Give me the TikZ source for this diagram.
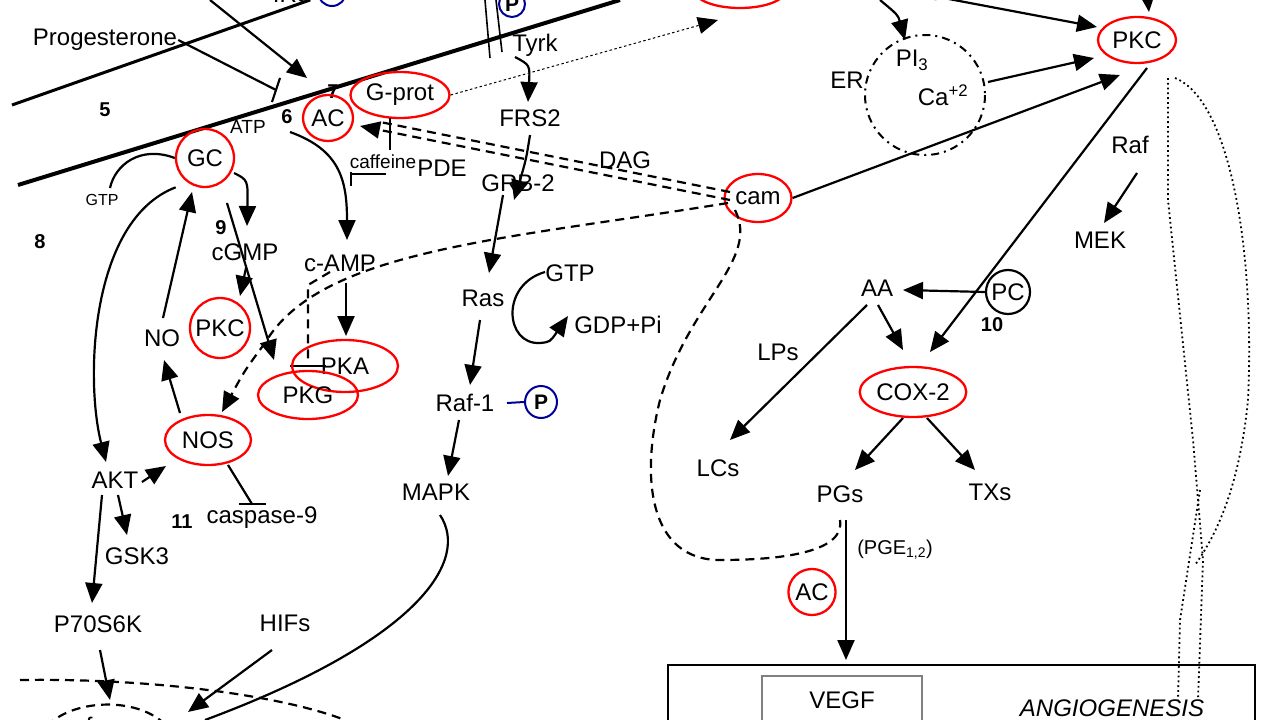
\documentclass[tikz,border=0pt]{standalone}
\usepackage{fontspec}
\setmainfont{Liberation Sans}
\usetikzlibrary{arrows.meta,shapes.geometric,calc}
\begin{document}
\begin{tikzpicture}[x=1pt,y=-1pt,
  lab/.style={font=\fontsize{24}{26}\selectfont,inner sep=1pt},
  sm/.style={font=\fontsize{19}{21}\selectfont,inner sep=1pt},
  num/.style={font=\fontsize{20}{22}\selectfont\bfseries,inner sep=1pt},
  red/.style={draw=red,line width=2.3pt,shape=ellipse},
  ar/.style={line width=2.2pt,-{Triangle[length=20pt,width=17pt]}},
  ln/.style={line width=2.2pt},
  dsh/.style={line width=2.2pt,dash pattern=on 9pt off 6pt},
  dot/.style={line width=1.8pt,dash pattern=on 1.8pt off 3pt}]
\useasboundingbox (0,0) rectangle (1280,720);
\clip (0,0) rectangle (1280,720);
\fill[white] (0,0) rectangle (1280,720);
% membranes
\draw[line width=3pt] (12,105) -- (310,0);
\draw[line width=4pt] (18,185) -- (620,0);
% top cut items
\node[lab] (irs) at (293,-6) {IRS};
\node[draw=blue!60!black,circle,line width=2pt,minimum size=28pt] (bp1) at (332,-8) {};
\node[draw=red,line width=2.3pt,shape=ellipse,minimum width=92pt,minimum height=36pt] (topred) at (740,-10) {};
\node[sm] (dagt) at (922,-6) {DAG};
% progesterone
\node[lab] (prog) at (105,40) {Progesterone};
\coordinate (pb) at (276,90);
\draw[ln] (prog.east) -- (pb);
\draw[ln] ($(pb)+(4,-12)$) -- ($(pb)+(-4,12)$);
\coordinate (ta) at (210,0);
\coordinate (tb) at (307,78);
\draw[ar] (ta) -- (tb);
\node[num] (n5) at (105,110) {5};
\node[sm] (atp) at (248,127) {ATP};
\node[num] (n6) at (287,117) {6};
\node[num] (n7) at (333,92) {7};
\node[red,minimum width=50pt,minimum height=46pt,lab] (ac) at (328,118) {AC};
\node[red,minimum width=82pt,minimum height=46pt,lab] (gprot) at (400,95) {G-prot};
\draw[line width=1pt,dash pattern=on 2.5pt off 2.5pt,-{Triangle[length=20pt,width=17pt]}] (gprot.east) -- (718,20);
% Tyrk
\draw[line width=1.6pt] (485,0) -- (490,58);
\draw[line width=1.6pt] (496,0) -- (502,52);
\node[draw=blue!60!black,circle,line width=2pt,minimum size=26pt,font=\fontsize{21}{22}\selectfont\bfseries,inner sep=0pt] (bp2) at (512,4) {P};
\draw[line width=2pt,blue!60!black] (498,4) -- (bp2.west);
\node[lab] (tyrk) at (535,45) {Tyrk};
\node[lab] (frs) at (530,118) {FRS2};
\node[lab] (grb) at (518,183) {GRB-2};
\draw[ar] (515,57) .. controls (530,65) .. (528,102);
\draw[ar] (530,135) .. controls (526,160) .. (514,200);
\node[lab] (ras) at (483,298) {Ras};
\draw[ar] (503,195) -- (489,273);
\node[lab] (gtp2) at (570,273) {GTP};
\node[lab] (gdp) at (618,325) {GDP+Pi};
\draw[ar] (545,272) .. controls (500,285) and (505,345) .. (540,343) .. controls (550,342) .. (568,316);
\node[lab] (raf1) at (465,403) {Raf-1};
\node[draw=blue!60!black,circle,line width=2pt,minimum size=32pt,font=\fontsize{21}{22}\selectfont\bfseries,inner sep=0pt] (bp3) at (541,402) {P};
\draw[line width=2pt,blue!60!black] (507,403) -- (bp3.west);
\draw[ar] (480,320) -- (470,385);
\node[lab] (mapk) at (436,492) {MAPK};
\draw[ar] (459,420) -- (448,476);
\draw[ln] (440,515) .. controls (470,560) and (420,640) .. (205,720);
% ER
\draw[line width=2pt,dash pattern=on 8pt off 5pt on 2pt off 5pt] (925,95) circle (60);
\node[lab] (pi3) at (912,60) {PI\textsubscript{3}};
\node[lab] (ca) at (943,95) {Ca\textsuperscript{+2}};
\node[lab] (er) at (847,80) {ER};
\draw[ar] (880,0) .. controls (898,15) .. (905,40);
\node[red,minimum width=78pt,minimum height=46pt,lab] (pkc) at (1137,40) {PKC};
\draw[ar] (dagt.east) ++(5,5) -- (1097,27);
\draw[ar] (1147,-8) -- (1149,12);
\draw[ar] (988,82) -- (1094,58);
\node[red,minimum width=58pt,minimum height=48pt,lab] (cam) at (758,198) {cam};
\draw[ar] (cam.east) -- (1120,75);
\node[lab] (dag2) at (625,160) {DAG};
\node[sm] (caff) at (383,162) {caffeine};
\node[lab] (pde) at (442,168) {PDE};
\draw[ln] (390,118) -- (390,150);
\draw[ln] (351,174) -- (386,174);
\draw[ln] (351,172) -- (351,186);
% double dashed cam -> AC
\draw[dsh] (730,192) -- (380,122);
\draw[dsh,-{Triangle[length=20pt,width=17pt]}] (730,200) -- (360,126);
% dashed cam -> NOS
\draw[dsh,-{Triangle[length=20pt,width=17pt]}] (728,203) .. controls (500,240) and (320,250) .. (265,343) .. controls (245,370) .. (222,412);
\draw[dsh] (330,272) -- (308,285) -- (308,360);
\draw[ln] (290,366) -- (326,366);
% big dashed loop
\draw[dsh] (735,210) .. controls (760,260) and (690,300) .. (660,400) .. controls (640,480) and (650,560) .. (720,560) .. controls (790,560) and (845,550) .. (840,520);
% right side
\node[lab] (raf) at (1130,145) {Raf};
\node[lab] (mek) at (1100,240) {MEK};
\draw[ar] (1137,173) -- (1104,223);
\node[red,minimum width=104pt,minimum height=50pt,lab] (cox) at (913,392) {COX-2};
\draw[ar] (1147,68) -- (930,352);
\node[draw,circle,line width=2.2pt,minimum size=44pt,lab,inner sep=0pt] (pc) at (1008,292) {PC};
\node[num] (n10) at (992,325) {10};
\node[lab] (aa) at (877,288) {AA};
\draw[ar] (pc.west) -- (903,290);
\draw[ar] (878,305) -- (903,350);
\draw[ar] (867,305) -- (730,440);
\node[lab] (lps) at (778,352) {LPs};
\node[lab] (lcs) at (718,468) {LCs};
\node[lab] (pgs) at (840,494) {PGs};
\node[lab] (txs) at (990,492) {TXs};
\draw[ar] (903,418) -- (855,470);
\draw[ar] (927,418) -- (975,470);
\node[lab,font=\fontsize{20}{22}\selectfont] (pge) at (895,550) {(PGE\textsubscript{1,2})};
\node[red,minimum width=42pt,minimum height=46pt,lab,inner sep=0pt] (ac2) at (812,592) {AC};
\draw[ar] (846,520) -- (846,660);
\draw[line width=2.5pt] (1255,740) -- (1255,665) -- (668,665) -- (668,740);
\draw[line width=2pt,gray] (762,740) -- (762,676) -- (922,676) -- (922,740);
\node[lab] (vegf) at (842,700) {VEGF};
\node[lab,font=\fontsize{24}{26}\selectfont\itshape] (ang) at (1112,708) {ANGIOGENESIS};
% dotted
\draw[dot] (1168,78) -- (1168,200) -- (1193,440) -- (1203,560) -- (1198,700);
\draw[dot] (1175,78) .. controls (1230,100) and (1255,250) .. (1248,400) .. controls (1240,480) and (1220,530) .. (1195,565);
\draw[dot] (1200,490) -- (1180,620) -- (1178,700);
% left side
\node[red,minimum width=58pt,minimum height=52pt,lab,shape=circle,inner sep=0pt] (gc) at (205,158) {GC};
\node[sm,font=\fontsize{16}{18}\selectfont] (gtp) at (102,200) {GTP};
\draw[ln] (gc.west) .. controls (140,145) and (115,165) .. (110,188);
\draw[ar] (gc.south west) ++(-8,8) .. controls (90,220) and (85,380) .. (106,462);
\node[num] (n8) at (40,242) {8};
\draw[ar] (234,173) .. controls (248,180) .. (247,226);
\node[num] (n9) at (221,228) {9};
\node[lab] (cgmp) at (245,252) {cGMP};
\node[red,minimum width=60pt,minimum height=52pt,lab,shape=circle,inner sep=0pt] (pkc2) at (220,328) {PKC};
\draw[ar] (246,268) -- (240,296);
\draw[ar] (227,203) -- (274,360);
\node[lab] (camp) at (340,263) {c-AMP};
\draw[ar] (290,132) .. controls (340,150) and (347,180) .. (347,240);
\draw[ar] (346,283) -- (346,336);
\node[red,minimum width=106pt,minimum height=52pt,lab] (pka) at (345,366) {PKA};
\node[red,minimum width=100pt,minimum height=48pt,lab] (pkg) at (308,395) {PKG};
\node[lab] (no) at (162,338) {NO};
\node[red,minimum width=86pt,minimum height=50pt,lab] (nos) at (208,440) {NOS};
\draw[ar] (180,413) -- (164,360);
\draw[ar] (163,318) -- (192,192);
\node[lab] (casp) at (262,518) {caspase-9};
\node[num] (n11) at (182,522) {11};
\draw[ln] (228,465) -- (252,504);
\draw[ln] (239,504) -- (266,504);
\node[lab] (akt) at (115,480) {AKT};
\draw[ar] (142,482) -- (166,466);
\node[lab] (gsk) at (137,556) {GSK3};
\draw[ar] (118,495) -- (127,535);
\node[lab] (p70) at (98,624) {P70S6K};
\draw[ar] (102,495) -- (92,603);
\node[lab] (hifs) at (285,623) {HIFs};
\draw[ar] (100,650) -- (110,700);
\draw[ar] (272,650) -- (188,712);
\draw[dsh] (20,680) .. controls (150,678) and (280,695) .. (345,720);
\draw[dsh] (40,740) .. controls (50,700) and (140,690) .. (170,730);
\node[lab] (cfos) at (92,726) {c-fos};
\end{tikzpicture}
\end{document}
